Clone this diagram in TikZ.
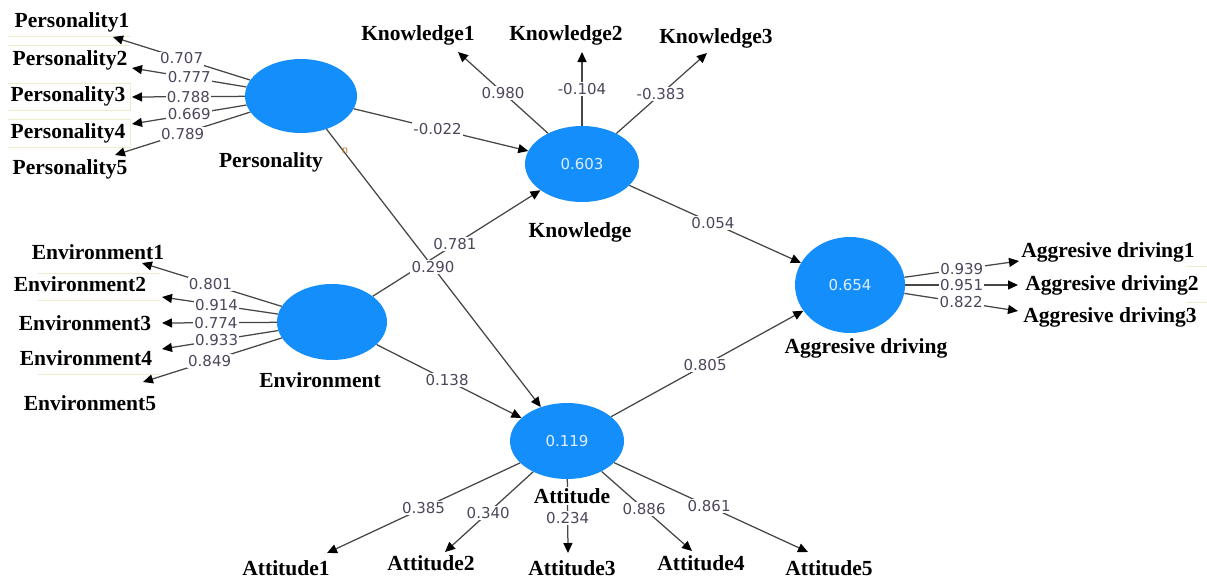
\documentclass[tikz,border=0pt]{standalone}
\usepackage{fontspec}
\setmainfont{Liberation Serif}
\newfontfamily\numfam{DejaVu Sans}
\usetikzlibrary{shapes.geometric,arrows.meta}
\definecolor{lvblue}{RGB}{20,142,250}
\definecolor{lvtext}{RGB}{225,238,255}
\definecolor{numcol}{RGB}{78,70,92}
\definecolor{linecol}{RGB}{70,70,70}
\definecolor{faint}{RGB}{238,236,205}
\definecolor{markcol}{RGB}{205,125,45}
\newcommand\labfont{\fontsize{21.5}{24}\selectfont\bfseries}
\newcommand\numfont{\numfam\fontsize{15}{17}\selectfont}
\newcommand\drawedge[4]{\draw[ld] (#1) -- (#2);}
\newcommand\labeledge[4]{\path (#1) -- (#2) node[lbl,pos=#3]{#4};}
\newcommand\alledges[1]{%
#1{pers}{p1t}{.5}{0.707}%
#1{pers}{p2t}{.5}{0.777}%
#1{pers}{p3t}{.5}{0.788}%
#1{pers}{p4t}{.5}{0.669}%
#1{pers}{p5t}{.5}{0.789}%
#1{know}{k1t}{.5}{0.980}%
#1{know}{k2t}{.5}{-0.104}%
#1{know}{k3t}{.49}{-0.383}%
#1{env}{e1t}{.51}{0.801}%
#1{env}{e2t}{.53}{0.914}%
#1{env}{e3t}{.53}{0.774}%
#1{env}{e4t}{.53}{0.933}%
#1{env}{e5t}{.52}{0.849}%
#1{agg}{d1t}{.5}{0.939}%
#1{agg}{d2t}{.5}{0.951}%
#1{agg}{d3t}{.5}{0.822}%
#1{att}{a1t}{.5}{0.385}%
#1{att}{a2t}{.51}{0.340}%
#1{att}{a3t}{.53}{0.234}%
#1{att}{a4t}{.47}{0.886}%
#1{att}{a5t}{.49}{0.861}%
#1{pers}{know}{.48}{-0.022}%
#1{env}{know}{.49}{0.781}%
#1{pers}{att}{.497}{0.290}%
#1{env}{att}{.487}{0.138}%
#1{know}{agg}{.487}{0.054}%
#1{att}{agg}{.489}{0.805}%
}
\tikzset{
  lv/.style={ellipse, fill=lvblue, draw=none, inner sep=0pt, font=\numfont, text=lvtext},
  ind/.style={font=\labfont, inner sep=0pt, text=black},
  lvname/.style={font=\labfont, inner sep=1pt, fill=white, text=black},
  lbl/.style={font=\numfont, text=numcol, fill=white, inner sep=1.3pt},
  ld/.style={draw=linecol, line width=1.25pt, -{Triangle[length=10pt,width=9pt,color=black]}},
  faintline/.style={draw=faint, line width=0.8pt}
}
\begin{document}
\begin{tikzpicture}[x=1pt,y=-1pt]
\useasboundingbox (0,0) rectangle (1207,579);
\fill[white] (0,0) rectangle (1207,579);
% faint separator lines
\draw[faintline] (8,36) -- (130,36);
\draw[faintline] (8,45) -- (130,45);
\draw[faintline] (8,83) -- (130,83) -- (130,110) -- (8,110);
\draw[faintline] (8,119) -- (130,119) -- (130,147) -- (8,147);
\draw[faintline] (38,273) -- (160,273);
\draw[faintline] (38,300) -- (160,300);
\draw[faintline] (38,374) -- (160,374);
\draw[faintline] (1187,266) -- (1207,266);
\draw[faintline] (1187,302) -- (1207,302);
% latent variables
\node[lv, minimum width=112pt, minimum height=74pt] (pers) at (301,96) {};
\node[lv, minimum width=114pt, minimum height=76pt] (know) at (582,164) {0.603};
\node[lv, minimum width=110pt, minimum height=76pt] (env) at (332,322) {};
\node[lv, minimum width=114pt, minimum height=76pt] (att) at (567,441) {0.119};
\node[lv, minimum width=110pt, minimum height=96pt] (agg) at (850,285) {0.654};
% arrow tip coordinates
\coordinate (p1t) at (113,37);
\coordinate (p2t) at (132,68);
\coordinate (p3t) at (132,97);
\coordinate (p4t) at (132,124);
\coordinate (p5t) at (115,155);
\coordinate (k1t) at (458,52);
\coordinate (k2t) at (582,52);
\coordinate (k3t) at (707,53);
\coordinate (e1t) at (142,263);
\coordinate (e2t) at (162,297);
\coordinate (e3t) at (162,323);
\coordinate (e4t) at (162,349);
\coordinate (e5t) at (143,382);
\coordinate (d1t) at (1019,261);
\coordinate (d2t) at (1018,285);
\coordinate (d3t) at (1018,311);
\coordinate (a1t) at (327,553);
\coordinate (a2t) at (445,552);
\coordinate (a3t) at (568,553);
\coordinate (a4t) at (692,551);
\coordinate (a5t) at (808,552);
% connectors, then their labels
\alledges\drawedge
\alledges\labeledge
% indicator names
\node[ind] (P1) at (72,22) {Personality1};
\node[ind] (P2) at (70,60) {Personality2};
\node[ind] (P3) at (68,96) {Personality3};
\node[ind] (P4) at (68,133) {Personality4};
\node[ind] (P5) at (70,169) {Personality5};
\node[ind] (K1) at (418,35) {Knowledge1};
\node[ind] (K2) at (566,35) {Knowledge2};
\node[ind] (K3) at (716,38) {Knowledge3};
\node[ind] (E1) at (98,252) {Environment1};
\node[ind] (E2) at (80,284) {Environment2};
\node[ind] (E3) at (85,323) {Environment3};
\node[ind] (E4) at (86,358) {Environment4};
\node[ind] (E5) at (90,403) {Environment5};
\node[ind] (D1) at (1108,252) {Aggresive driving1};
\node[ind] (D2) at (1112,285) {Aggresive driving2};
\node[ind] (D3) at (1110,317) {Aggresive driving3};
\node[ind] (A1) at (286,568) {Attitude1};
\node[ind] (A2) at (431,563) {Attitude2};
\node[ind] (A3) at (572,568) {Attitude3};
\node[ind] (A4) at (701,563) {Attitude4};
\node[ind] (A5) at (829,568) {Attitude5};
% latent names
\node[lvname] (persname) at (271,162) {Personality};
\node[lvname] (knowname) at (580,232) {Knowledge};
\node[lvname] (envname) at (320,380) {Environment};
\node[lvname] (attname) at (572,496) {Attitude};
\node[lvname] (aggname) at (866,348) {Aggresive driving};
% small mark
\node[font=\numfam\fontsize{10}{11}\selectfont, text=markcol, inner sep=0pt] (mark) at (345,151) {n};
\end{tikzpicture}
\end{document}
